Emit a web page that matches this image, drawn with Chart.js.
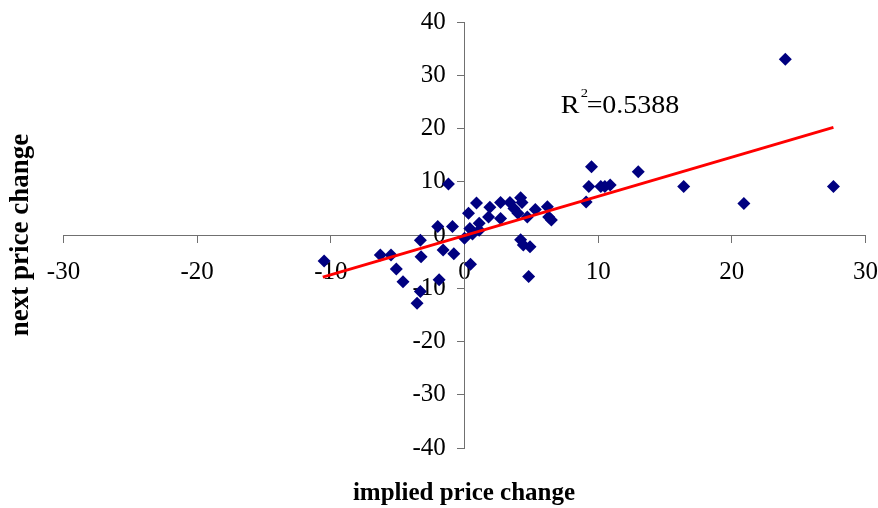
<!DOCTYPE html>
<html>
<head>
<meta charset="utf-8">
<script src="https://cdn.jsdelivr.net/npm/chart.js@4/dist/chart.umd.min.js"></script>
<style>
  body { margin: 0; background: #fff; }
  #caja { width: 878px; height: 508px; }
</style>
</head>
<body>
<div id="caja"><canvas id="grafico" width="878" height="508"></canvas></div>
<script>
// implied price change (x) vs next price change (y)
const impliedChange = [-10.5, -6.3, -5.5, -5.1, -4.6, -3.3, -3.25, -3.55, -3.3, -1.9,
  -2.0, -1.6, -1.2, -0.9, -0.8, 0.45, 0.0, 0.3, 0.9, 0.4,
  1.1, 0.6, 1.8, 1.9, 2.7, 2.7, 3.4, 3.7, 4.2, 4.3,
  4.7, 5.3, 4.2, 4.4, 4.9, 4.8, 6.2, 6.3, 6.5, 9.1,
  9.3, 9.5, 10.2, 10.5, 10.9, 13.0, 16.4, 20.9, 24.0, 27.6,
  1.1, 4.0]
const nextChange = [-4.9, -3.75, -3.75, -6.4, -8.8, -1.0, -4.1, -12.8, -10.6, -8.4,
  1.6, -2.8, 9.6, 1.6, -3.5, -5.5, -0.6, 4.1, 6.0, 1.2,
  0.9, 0.2, 3.4, 5.2, 6.1, 3.1, 6.1, 5.0, 7.0, 6.1,
  3.4, 4.8, -0.9, -1.9, -2.2, -7.8, 5.3, 3.4, 2.8, 6.2,
  9.1, 12.8, 9.1, 9.1, 9.4, 11.9, 9.1, 5.9, 33.0, 9.1,
  2.2, 4.1]

// linear trend, end points
const trendX = [-10.6, 27.6]
const trendY = [-7.9, 20.2]

const xTicks = [-30, -20, -10, 0, 10, 20, 30]
const yTicks = [-40, -30, -20, -10, 0, 10, 20, 30, 40]

const rSquared = "0.5388"

const puntos = impliedChange.map((x, i) => ({x: x, y: nextChange[i]}))
const tendencia = trendX.map((x, i) => ({x: x, y: trendY[i]}))

const fuente = "'Liberation Serif', 'Times New Roman', serif"

// draws a piece of text a little wider, like the R2 label in the original
function textoAncho(ctx, texto, x, y, size) {
  ctx.save()
  ctx.translate(x, y)
  ctx.scale(1.12, 1)
  ctx.font = size + "px " + fuente
  ctx.fillText(texto, 0, 0)
  ctx.restore()
}

const textos = {
  id: "textos",
  afterDraw(chart) {
    const ctx = chart.ctx
    const sx = chart.scales.x
    const sy = chart.scales.y
    ctx.save()
    ctx.fillStyle = "#000"
    ctx.textAlign = "left"
    ctx.textBaseline = "alphabetic"

    // R squared label
    const rx = sx.getPixelForValue(7.2)
    const ry = sy.getPixelForValue(22.9)
    textoAncho(ctx, "R", rx, ry, 25)
    textoAncho(ctx, "2", rx + 20, ry - 16.5, 13)
    textoAncho(ctx, "=", rx + 26, ry, 25)
    textoAncho(ctx, rSquared, rx + 41.5, ry, 25)

    // axis titles
    ctx.font = "bold 25px " + fuente
    ctx.textAlign = "center"
    ctx.fillText("implied price change", 464, 500)

    ctx.font = "bold 27px " + fuente
    ctx.translate(28, 235)
    ctx.rotate(-Math.PI / 2)
    ctx.fillText("next price change", 0, 0)
    ctx.restore()
  }
}

new Chart(document.getElementById("grafico"), {
  type: "scatter",
  data: {
    datasets: [
      {
        data: puntos,
        order: 1,
        pointStyle: "rectRot",
        pointRadius: 6.5,
        backgroundColor: "#000080",
        borderColor: "#000080",
        borderWidth: 0
      },
      {
        type: "line",
        data: tendencia,
        order: 0,
        showLine: true,
        borderColor: "#ff0000",
        borderWidth: 3,
        pointRadius: 0,
        fill: false
      }
    ]
  },
  options: {
    responsive: false,
    animation: false,
    layout: {
      padding: {left: 63.5, right: 11, top: 22, bottom: 60}
    },
    plugins: {
      legend: {display: false},
      tooltip: {enabled: false}
    },
    scales: {
      x: {
        type: "linear",
        position: {y: 0},
        min: -30,
        max: 30,
        afterBuildTicks: s => { s.ticks = xTicks.map(v => ({value: v})) },
        ticks: {
          padding: 0,
          maxRotation: 0,
          autoSkip: false,
          color: "#000",
          font: {family: fuente, size: 25, lineHeight: 2.44}
        },
        grid: {drawOnChartArea: false, drawTicks: true, tickLength: 7, color: "#707070"},
        border: {display: true, color: "#707070", width: 1}
      },
      y: {
        type: "linear",
        position: {x: 0},
        min: -40,
        max: 40,
        afterBuildTicks: s => { s.ticks = yTicks.map(v => ({value: v})) },
        ticks: {
          autoSkip: false,
          color: "#000",
          font: {family: fuente, size: 25},
          callback: v => v + "   "
        },
        grid: {drawOnChartArea: false, drawTicks: true, tickLength: 7, color: "#707070"},
        border: {display: true, color: "#707070", width: 1}
      }
    }
  },
  plugins: [textos]
})
</script>
</body>
</html>
